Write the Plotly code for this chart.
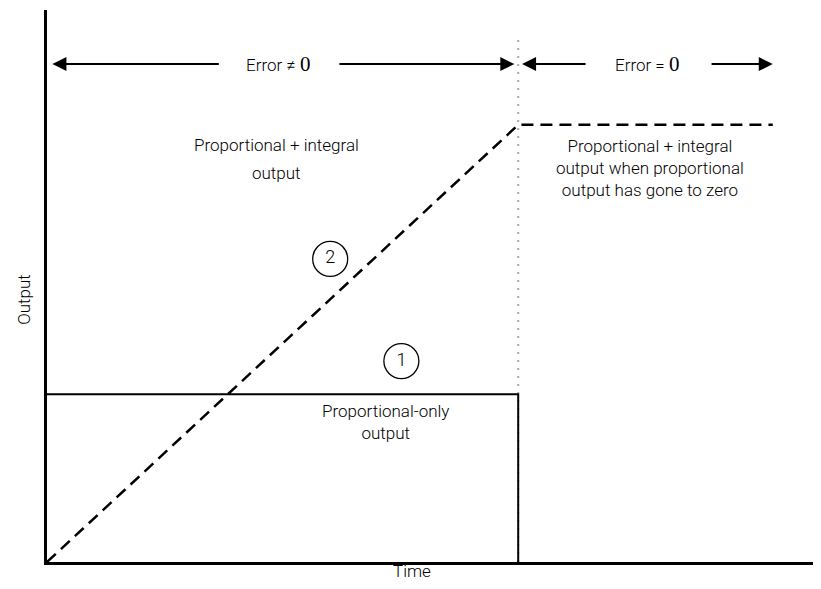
import plotly.graph_objects as go

# time / output points of the two controller responses
prop_time = [0, 6.09, 6.09]
prop_output = [0.304, 0.304, 0]
pi_time = [0, 6.09, 9.38]
pi_output = [0, 0.792, 0.792]

# boundary between error != 0 and error = 0
switch_time = [6.09, 6.09]
switch_level = [0, 0.952]

marker_labels = ["2", "1"]
marker_time = [3.66, 4.58]
marker_output = [0.549, 0.364]

FONT = "Roboto"
FS = 17

fig = go.Figure()
fig.add_trace(go.Scatter(x=switch_time, y=switch_level, mode="lines",
                         line=dict(color="#aaaaaa", width=2, dash="2px,6px")))
fig.add_trace(go.Scatter(x=prop_time, y=prop_output, mode="lines",
                         line=dict(color="black", width=2)))
fig.add_trace(go.Scatter(x=pi_time, y=pi_output, mode="lines",
                         line=dict(color="black", width=2.5, dash="12px,7px")))
fig.add_trace(go.Scatter(x=marker_time, y=marker_output, mode="markers+text",
                         text=marker_labels, textposition="middle center",
                         marker=dict(symbol="circle-open", size=35, color="black",
                                     line=dict(color="black", width=1.3)),
                         textfont=dict(family=FONT, size=FS + 1, color="black", weight=300)))


def arrow(head, tail, y):
    fig.add_annotation(x=head, y=y, ax=tail, ay=y, xref="x", yref="y",
                       axref="x", ayref="y", text="", showarrow=True,
                       arrowhead=2, arrowsize=1.4, arrowwidth=2, arrowcolor="black")


arrow(0.07, 2.24, 0.902)
arrow(6.04, 3.76, 0.902)
arrow(6.14, 6.98, 0.902)
arrow(9.38, 8.57, 0.902)

ZERO = "<span style='font-family:Liberation Serif;font-weight:400;font-size:21px'>0</span>"
texts = [
    (2.98, 0.902, "Error ≠ " + ZERO),
    (7.76, 0.902, "Error = " + ZERO),
    (2.97, 0.755, "Proportional + integral"),
    (2.97, 0.705, "output"),
    (7.79, 0.714, "Proportional + integral<br>output when proportional<br>output has gone to zero"),
    (4.38, 0.254, "Proportional-only<br>output"),
]
for x, y, t in texts:
    fig.add_annotation(x=x, y=y, xref="x", yref="y", text=t, showarrow=False,
                       font=dict(family=FONT, size=FS, color="black", weight=300))

# axis titles
fig.add_annotation(x=0.4765, y=0, xref="paper", yref="paper", yanchor="bottom",
                   yshift=-20, text="Time", showarrow=False, borderpad=0,
                   font=dict(family=FONT, size=FS, color="black", weight=300))
fig.add_annotation(x=-0.030, y=0.475, xref="paper", yref="paper", textangle=-90,
                   xanchor="center", yanchor="middle",
                   text="Output", showarrow=False,
                   font=dict(family=FONT, size=FS, color="black", weight=300))

# page body keeps an 8px margin, so the figure is 16px smaller than the window
fig.update_layout(
    width=805, height=573,
    margin=dict(l=39, r=0, t=2, b=19),
    plot_bgcolor="white", paper_bgcolor="white",
    showlegend=False,
    font=dict(family=FONT, size=FS, color="black", weight=300),
    xaxis=dict(range=[0, 9.9], showgrid=False, zeroline=False, showticklabels=False,
               ticks="", showline=True, linecolor="black", linewidth=3, automargin=False),
    yaxis=dict(range=[0, 1], showgrid=False, zeroline=False, showticklabels=False,
               ticks="", showline=True, linecolor="black", linewidth=3, automargin=False),
)

fig.write_html("out.html")
